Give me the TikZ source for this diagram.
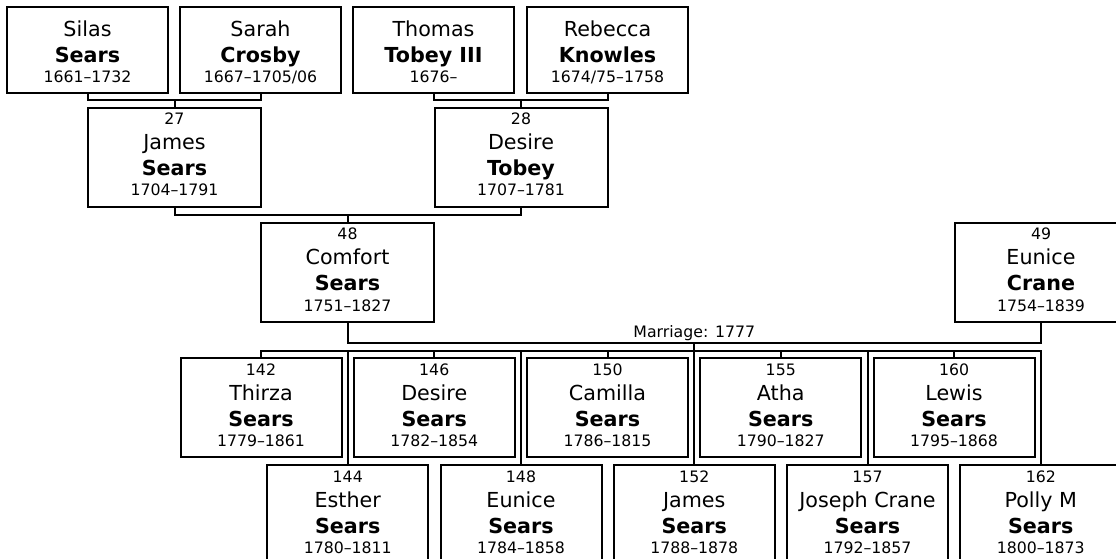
\documentclass[tikz,border=0pt]{standalone}
\usepackage{fontspec}
\setmainfont{DejaVu Sans}
\usepackage{tikz}
\usetikzlibrary{calc}
\tikzstyle{person}=[draw,line width=1.5pt,inner sep=0pt,outer sep=0pt,minimum width=120.75pt,minimum height=64.5pt]
\tikzstyle{parent}=[person,minimum width=129.75pt,minimum height=74.25pt]
\tikzstyle{child}=[person,minimum height=74.25pt]
\tikzstyle{firstname}=[anchor=base,inner sep=0pt,font=\fontsize{15.5}{18}\selectfont]
\tikzstyle{surname}=[firstname,font=\fontsize{15.5}{18}\selectfont\bfseries]
\tikzstyle{years}=[anchor=base,inner sep=0pt,font=\fontsize{11.8}{14}\selectfont]
\tikzstyle{link}=[draw,line width=1.5pt]

\begin{document}
\begin{tikzpicture}[x=0.75pt,y=-0.75pt]
    \path[use as bounding box] (0,0) rectangle (1116,559);
    \clip (0,0) rectangle (1116,559);

    \foreach \pos/\name/\first/\last/\dates in {{(87.5,50)/silas/Silas/Sears/1661--1732}, {(260.5,50)/sarah/Sarah/Crosby/{1667--1705/06}}, {(433.5,50)/thomas/Thomas/Tobey III/1676--}, {(607.5,50)/rebecca/Rebecca/Knowles/{1674/75--1758}}}
    {
        \node[person] (\name) at \pos {};
        \node[firstname] at ([shift={(0,30)}]\name.north) {\first};
        \node[surname] at ([shift={(0,56)}]\name.north) {\last};
        \node[years] at ([shift={(0,76)}]\name.north) {\dates};
    }

    \foreach \pos/\name/\num/\first/\last/\dates in {{(174.5,157.5)/james/27/James/Sears/1704--1791}, {(521,157.5)/desire/28/Desire/Tobey/1707--1781}, {(347.5,272.5)/comfort/48/Comfort/Sears/1751--1827}, {(1041,272.5)/eunice/49/Eunice/Crane/1754--1839}}
    {
        \node[parent] (\name) at \pos {};
        \node[years] at ([shift={(0,17)}]\name.north) {\num};
        \node[firstname] at ([shift={(0,42)}]\name.north) {\first};
        \node[surname] at ([shift={(0,68)}]\name.north) {\last};
        \node[years] at ([shift={(0,88)}]\name.north) {\dates};
    }

    \foreach \pos/\name/\num/\first/\dates in {{(261,407.5)/thirza/142/Thirza/1779--1861}, {(434.25,407.5)/desireb/146/Desire/1782--1854}, {(607.5,407.5)/camilla/150/Camilla/1786--1815}, {(780.75,407.5)/atha/155/Atha/1790--1827}, {(954,407.5)/lewis/160/Lewis/1795--1868}, {(347.75,514.5)/esther/144/Esther/1780--1811}, {(521,514.5)/euniceb/148/Eunice/1784--1858}, {(694.25,514.5)/jamesb/152/James/1788--1878}, {(867.5,514.5)/joseph/157/Joseph Crane/1792--1857}, {(1040.75,514.5)/polly/162/Polly M/1800--1873}}
    {
        \node[child] (\name) at \pos {};
        \node[years] at ([shift={(0,17)}]\name.north) {\num};
        \node[firstname] at ([shift={(0,42)}]\name.north) {\first};
        \node[surname] at ([shift={(0,68)}]\name.north) {Sears};
        \node[years] at ([shift={(0,88)}]\name.north) {\dates};
    }

    \coordinate (up1) at ([shift={(0,-8)}]james.north);
    \coordinate (up2) at ([shift={(0,-8)}]desire.north);
    \coordinate (up3) at ([shift={(0,-8)}]comfort.north);
    \path[link] (silas.south) |- (up1) -| (sarah.south);
    \path[link] (thomas.south) |- (up2) -| (rebecca.south);
    \path[link] (james.south) |- (up3) -| (desire.south);
    \foreach \name/\up in {james/up1, desire/up2, comfort/up3}
        \path[link] (\up) -- (\name.north);

    \coordinate (wed) at ($($(comfort.south)!0.5!(eunice.south)$)+(0,21)$);
    \coordinate (kids) at ([shift={(0,8)}]wed);
    \path[link] (comfort.south) |- (wed) -| (eunice.south);
    \node[years] at ([shift={(0,-5)}]wed) {Marriage: 1777};
    \path[link] (wed) -- (kids);
    \path[link] (thirza.north) |- (kids) -| (polly.north);
    \foreach \name in {desireb, camilla, atha, lewis, esther, euniceb, jamesb, joseph}
        \path[link] (\name.north) -- (\name.north |- kids);

\end{tikzpicture}
\end{document}
